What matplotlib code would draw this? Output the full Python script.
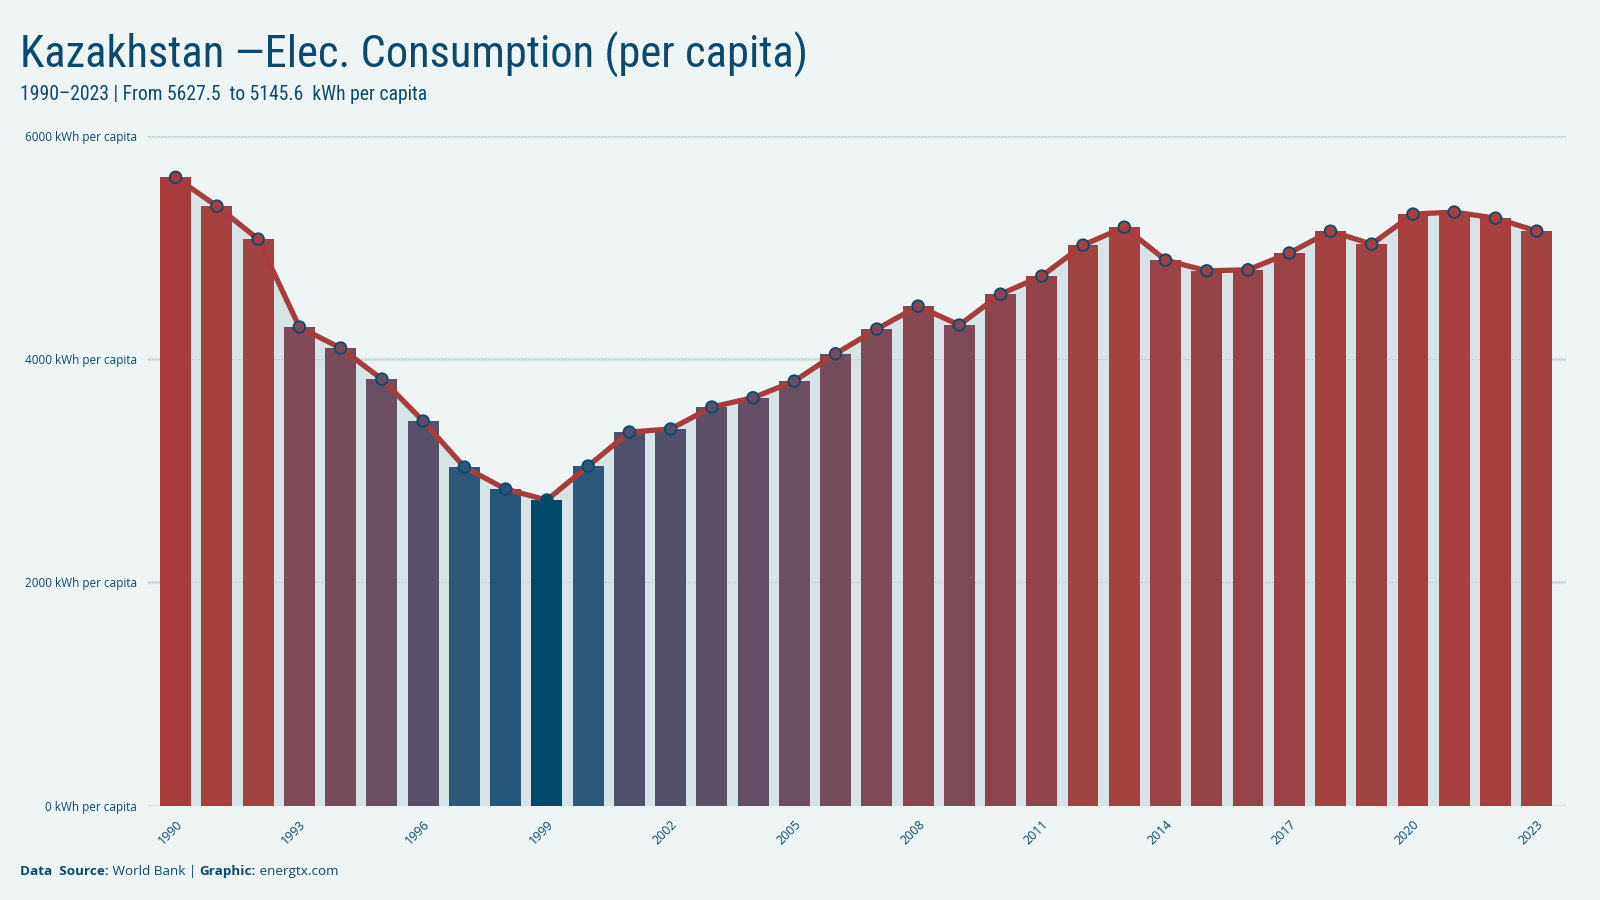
import os
import numpy as np
import matplotlib
matplotlib.use('Agg')
import matplotlib.pyplot as plt
from matplotlib import font_manager
from matplotlib.colors import LinearSegmentedColormap

# data (kWh per capita)
years = list(range(1990, 2024))
values = [5627.5, 5369, 5074, 4286, 4098, 3820, 3444, 3032, 2835, 2737,
          3041, 3346, 3373, 3570, 3653, 3802, 4047, 4268, 4474, 4304,
          4581, 4743, 5020, 5181, 4886, 4790, 4799, 4949, 5145, 5029,
          5298, 5316, 5262, 5145.6]
y_ticks = [0, 2000, 4000, 6000]
tick_years = years[::3]

BG = '#eff5f5'
DARK = '#0b4a6e'
RED = '#a83c3c'
FILL = '#d6e3e7'

names = {f.name for f in font_manager.fontManager.ttflist}
body = 'Open Sans' if 'Open Sans' in names else 'DejaVu Sans'
plt.rcParams['font.family'] = [body, 'DejaVu Sans']

# look for a narrow face for the title (reference uses a condensed font)
narrow_fp = None
prefs = ['ubuntucondensed', 'robotocondensed', 'liberationsansnarrow',
         'opensanscondensed', 'notosanscondensed', 'dejavusanscondensed']
files = {}
for f in font_manager.fontManager.ttflist:
    key = os.path.basename(f.fname).lower().replace('-', '').replace('_', '')
    files[key] = f.fname
for p in prefs:
    hits = sorted(k for k in files if k.startswith(p) and 'bold' not in k
                  and 'italic' not in k and 'oblique' not in k and 'light' not in k)
    if hits:
        narrow_fp = font_manager.FontProperties(fname=files[hits[0]])
        break
if narrow_fp is None:
    narrow_fp = font_manager.FontProperties(family='DejaVu Sans', stretch='condensed')
title_size = 32
sub_size = 14.1

# colour ramp from the minimum (dark blue) to the maximum (red)
cmap = LinearSegmentedColormap.from_list('kz', [
    (0.0, '#00496a'), (0.035, '#2c5878'), (0.105, '#2e5878'),
    (0.21, '#52506a'), (0.37, '#6a4e62'), (0.54, '#7e4a55'),
    (0.69, '#93434a'), (0.85, '#a64141'), (1.0, RED)])
vals = np.array(values)
norm = (vals - vals.min()) / (vals.max() - vals.min())
colors = [cmap(t) for t in norm]

fig = plt.figure(figsize=(16, 9), dpi=100, facecolor=BG)
ax = fig.add_axes([0.0925, 0.1049, 0.8865, 0.7443])
ax.set_facecolor(BG)

x = np.arange(len(years))
ax.fill_between(x, values, 0, color=FILL, zorder=1, lw=0)
for yt in y_ticks:
    ax.axhline(yt, color=FILL, lw=2.5, zorder=0.5)
    ax.axhline(yt, color='#b5c3c5', lw=0.8, ls=(0, (1, 2)), zorder=1.5)
ax.bar(x, values, width=0.75, color=colors, lw=0, zorder=2)
ax.plot(x, values, color=RED, lw=3.8, zorder=3, solid_capstyle='round')
ax.scatter(x, values, s=70, c=colors, edgecolors=DARK, linewidths=1.3, zorder=4)

ax.set_xlim(-0.67, len(years) - 1 + 0.72)
ax.set_ylim(0, 6000)
ax.set_yticks(y_ticks)
ax.set_yticklabels([f'{v} kWh per capita' for v in y_ticks], fontsize=8.5, color=DARK)
ax.set_xticks([years.index(y) for y in tick_years])
ax.set_xticklabels([str(y) for y in tick_years], fontsize=9, color=DARK,
                   rotation=45, ha='right', rotation_mode='anchor')
ax.tick_params(axis='both', length=0)
ax.tick_params(axis='y', pad=8)
ax.tick_params(axis='x', pad=9)
for s in ax.spines.values():
    s.set_visible(False)

# titles
fig.text(0.0125, 0.925, 'Kazakhstan \u2014Elec. Consumption (per capita)',
         fontproperties=narrow_fp, fontsize=title_size, color=DARK, va='baseline')
fig.text(0.0125, 0.889, '1990\u20132023 | From 5627.5  to 5145.6  kWh per capita',
         fontproperties=narrow_fp, fontsize=sub_size, color=DARK, va='baseline')

# footer with bold pieces
renderer = fig.canvas.get_renderer()
xpos = 0.0125
for txt, wt in [('Data  Source:', 'bold'), (' World Bank | ', 'normal'),
                ('Graphic:', 'bold'), (' energtx.com', 'normal')]:
    t = fig.text(xpos, 0.0275, txt, fontsize=9.7, color=DARK, weight=wt, va='baseline')
    bb = t.get_window_extent(renderer)
    xpos += bb.width / fig.bbox.width

fig.savefig('out.png', dpi=100, facecolor=BG)
